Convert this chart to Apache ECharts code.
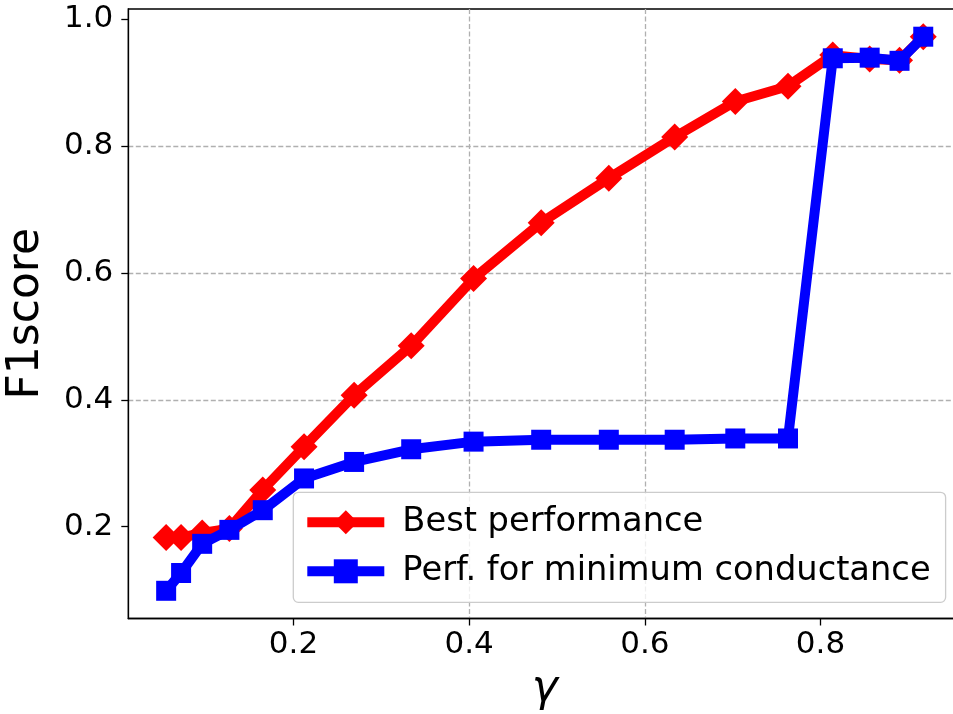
<!DOCTYPE html>
<html>
<head>
<meta charset="utf-8">
<script src="https://cdn.jsdelivr.net/npm/echarts@6/dist/echarts.min.js"></script>
<style>
  html, body { margin: 0; padding: 0; background: #fff; }
  #chart { width: 953px; height: 714px; }
</style>
</head>
<body>
<div id="chart"></div>
<script>
// ---- data ----
const gammaValues = [0.055, 0.072, 0.096, 0.127, 0.165, 0.212, 0.269, 0.334, 0.405, 0.482, 0.559, 0.634, 0.703, 0.763, 0.814, 0.856, 0.890, 0.917];
const bestF1     = [0.183, 0.183, 0.190, 0.197, 0.258, 0.326, 0.407, 0.485, 0.591, 0.679, 0.749, 0.814, 0.870, 0.894, 0.943, 0.937, 0.935, 0.972];
const minCondF1  = [0.099, 0.127, 0.173, 0.195, 0.226, 0.276, 0.302, 0.322, 0.334, 0.337, 0.337, 0.337, 0.339, 0.339, 0.938, 0.939, 0.934, 0.972];
const seriesNames = ['Best performance', 'Perf. for minimum conductance'];
const tickValues = [0.2, 0.4, 0.6, 0.8, 1.0];

const FONT = 'DejaVu Sans';
function pairs(xs, ys) { return xs.map((x, i) => [x, ys[i]]); }
function paddedExtent(arrs) {
  const all = [].concat(...arrs);
  const lo = Math.min(...all), hi = Math.max(...all), pad = (hi - lo) * 0.05;
  return [lo - pad, hi + pad];
}
const xExt = paddedExtent([gammaValues]);
const yExt = paddedExtent([bestF1, minCondF1]);

const gridLine = { show: true, showMinLine: false, showMaxLine: false,
  lineStyle: { color: '#b0b0b0', width: 1.3, type: [5, 2.5] } };
const axisLine = { show: true, onZero: false, lineStyle: { color: '#000', width: 1.3 } };
const axisTick = { show: true, inside: false, length: 7, lineStyle: { color: '#000', width: 1.3 } };

const chart = echarts.init(document.getElementById('chart'), null, { renderer: 'canvas' });
chart.setOption({
  backgroundColor: '#fff',
  animation: false,
  textStyle: { fontFamily: FONT },
  grid: { left: 128.3, right: -8.1, top: 9, bottom: 95.5, show: true,
          borderColor: '#000', borderWidth: 1.3, backgroundColor: 'transparent',
          containLabel: false, outerBoundsMode: 'none' },
  xAxis: {
    type: 'value', min: xExt[0], max: xExt[1],
    name: 'γ', nameLocation: 'middle', nameGap: 49,
    nameTextStyle: { fontSize: 44, fontStyle: 'italic', color: '#000', fontFamily: FONT },
    axisLine: axisLine,
    axisTick: Object.assign({ customValues: tickValues.slice(0, 4) }, axisTick),
    axisLabel: { customValues: tickValues.slice(0, 4), margin: 11, fontSize: 31, color: '#000', fontFamily: FONT,
                 formatter: v => v.toFixed(1) },
    splitLine: gridLine
  },
  yAxis: {
    type: 'value', min: yExt[0], max: yExt[1],
    name: 'F1score', nameLocation: 'middle', nameGap: 80, nameRotate: 90,
    nameTextStyle: { fontSize: 44, color: '#000', fontFamily: FONT },
    axisLine: axisLine,
    axisTick: Object.assign({ customValues: tickValues }, axisTick),
    axisLabel: { customValues: tickValues, margin: 15, fontSize: 31, color: '#000', fontFamily: FONT,
                 formatter: v => v.toFixed(1) },
    splitLine: gridLine
  },
  legend: {
    orient: 'vertical', left: 293.3, top: 492.3,
    itemWidth: 77, itemHeight: 30, itemGap: 15,
    padding: [13, 15, 14, 9],
    backgroundColor: 'rgba(255,255,255,0.8)', borderColor: '#cccccc', borderWidth: 1.3, borderRadius: 5,
    lineStyle: { width: 10 },
    textStyle: { fontSize: 33.7, color: '#000', fontFamily: FONT, padding: [0, 0, 0, 13] },
    data: seriesNames
  },
  series: [
    { name: seriesNames[0], type: 'line', data: pairs(gammaValues, bestF1),
      symbol: 'diamond', symbolSize: 27, showAllSymbol: true,
      lineStyle: { color: '#ff0000', width: 10, join: 'round' },
      itemStyle: { color: '#ff0000', opacity: 1 }, z: 2 },
    { name: seriesNames[1], type: 'line', data: pairs(gammaValues, minCondF1),
      symbol: 'rect', symbolSize: 20, showAllSymbol: true,
      lineStyle: { color: '#0000ff', width: 10, join: 'round' },
      itemStyle: { color: '#0000ff', opacity: 1 }, z: 3 }
  ]
});
</script>
</body>
</html>
